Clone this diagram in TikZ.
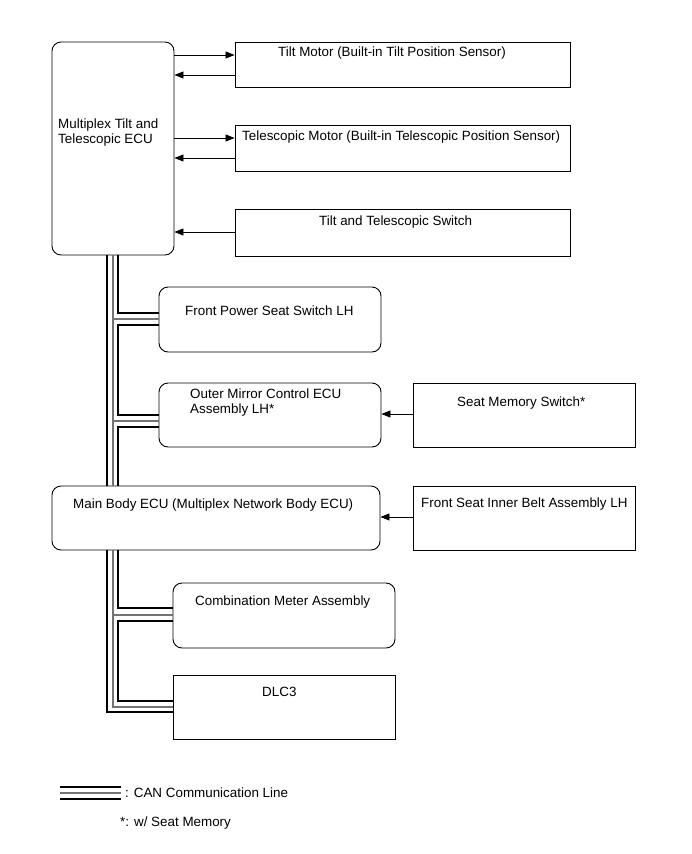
\documentclass[tikz,border=0pt]{standalone}
\usepackage{fontspec}
\setmainfont{Liberation Sans}
\usetikzlibrary{arrows.meta}

\begin{document}
\begin{tikzpicture}[x=1pt, y=-1pt, font=\fontsize{13.4}{15}\selectfont,
        box/.style={draw, line width=0.9pt, inner sep=0pt},
        rbox/.style={box, rounded corners=9pt},
        txt/.style={inner sep=0pt, anchor=base west, align=left},
        sig/.style={line width=0.8pt, -{Triangle[length=9pt, width=7pt]}},
        canb/.style={line width=2.6pt},
        cang/.style={line width=1.2pt, black!55}]
        \useasboundingbox (0,0) rectangle (691,854);

        % boxes
        \node[rbox, minimum width=122pt, minimum height=213pt] (ECU) at (113,148.5) {};
        \node[box, minimum width=335pt, minimum height=45pt] (TM) at (402.5,64.5) {};
        \node[box, minimum width=335pt, minimum height=46pt] (TEL) at (402.5,148) {};
        \node[box, minimum width=335pt, minimum height=47pt] (SW) at (402.5,232.5) {};
        \node[rbox, minimum width=222pt, minimum height=65pt] (FPS) at (270,319.5) {};
        \node[rbox, minimum width=222pt, minimum height=64pt] (OM) at (270,415) {};
        \node[box, minimum width=222pt, minimum height=64pt] (SMS) at (524,415) {};
        \node[rbox, minimum width=328pt, minimum height=64pt] (MB) at (216,518) {};
        \node[box, minimum width=222pt, minimum height=64pt] (BELT) at (524,518) {};
        \node[rbox, minimum width=222pt, minimum height=65pt] (CM) at (284,615.5) {};
        \node[box, minimum width=222pt, minimum height=64pt] (DLC) at (284,707) {};

        % texts (base of the last line)
        \node[txt] (tECU) at (58,143.5) {Multiplex Tilt and\\Telescopic ECU};
        \node[txt] (tTM) at (278,56.5) {Tilt Motor (Built-in Tilt Position Sensor)};
        \node[txt] (tTEL) at (242,140.5) {Telescopic Motor (Built-in Telescopic Position Sensor)};
        \node[txt] (tSW) at (319,225.5) {Tilt and Telescopic Switch};
        \node[txt] (tFPS) at (185,315.5) {Front Power Seat Switch LH};
        \node[txt] (tOM) at (190,413) {Outer Mirror Control ECU\\Assembly LH*};
        \node[txt] (tSMS) at (457,406.5) {Seat Memory Switch*};
        \node[txt] (tMB) at (73,508) {Main Body ECU (Multiplex Network Body ECU)};
        \node[txt] (tBELT) at (421,507.5) {Front Seat Inner Belt Assembly LH};
        \node[txt] (tCM) at (195,605.5) {Combination Meter Assembly};
        \node[txt] (tDLC) at (262,696.5) {DLC3};

        % signal lines
        \draw[sig] (ECU.east |- 0,55) -- (TM.west |- 0,55);
        \draw[sig] (TM.west |- 0,75) -- (ECU.east |- 0,75);
        \draw[sig] (ECU.east |- 0,138) -- (TEL.west |- 0,138);
        \draw[sig] (TEL.west |- 0,158) -- (ECU.east |- 0,158);
        \draw[sig] (SW.west |- 0,232) -- (ECU.east |- 0,232);
        \draw[sig] (SMS.west |- 0,414) -- (OM.east |- 0,414);
        \draw[sig] (BELT.west |- 0,517) -- (MB.east |- 0,517);

        % CAN bus
        \draw[canb] (107,0 |- ECU.south) -- (107,0 |- MB.north);
        \draw[canb] (107,0 |- MB.south) -- (107,712) -- (DLC.west |- 0,712);
        \draw[cang] (113,0 |- ECU.south) -- (113,0 |- MB.north);
        \draw[cang] (113,0 |- MB.south) -- (113,707) -- (DLC.west |- 0,707);
        \draw[cang] (113,319) -- (FPS.west |- 0,319);
        \draw[cang] (113,421) -- (OM.west |- 0,421);
        \draw[cang] (113,615) -- (CM.west |- 0,615);
        \draw[canb] (118,0 |- ECU.south) -- (118,313) -- (FPS.west |- 0,313);
        \draw[canb] (FPS.west |- 0,325) -- (118,325) -- (118,415) -- (OM.west |- 0,415);
        \draw[canb] (OM.west |- 0,427) -- (118,427) -- (118,0 |- MB.north);
        \draw[canb] (118,0 |- MB.south) -- (118,608) -- (CM.west |- 0,608);
        \draw[canb] (CM.west |- 0,621) -- (118,621) -- (118,701) -- (DLC.west |- 0,701);

        % legend
        \coordinate (LA) at (60,793);
        \coordinate (LB) at (121,793);
        \draw[canb] ([yshift=6pt]LA) -- ([yshift=6pt]LB);
        \draw[cang] (LA) -- (LB);
        \draw[canb] ([yshift=-6pt]LA) -- ([yshift=-6pt]LB);
        \node[txt] (tLEG) at (125,797) {: CAN Communication Line};
        \node[txt] (tNOTE) at (120,826) {*: w/ Seat Memory};
\end{tikzpicture}
\end{document}
